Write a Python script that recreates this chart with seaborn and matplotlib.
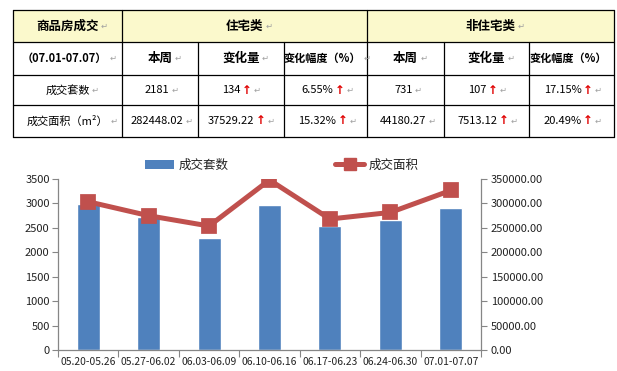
import numpy as np
import pandas as pd
import seaborn as sns
import matplotlib.pyplot as plt
from matplotlib.patches import Rectangle, Patch
from matplotlib.lines import Line2D
from matplotlib.ticker import FormatStrFormatter, FixedLocator

sns.set_theme(style='white')
plt.rcParams['font.family'] = ['Noto Sans CJK SC', 'DejaVu Sans']

##### table data #####
corner = ['商品房成交', '（07.01-07.07）']
groups = ['住宅类', '非住宅类']
sub_cols = ['本周', '变化量', '变化幅度（%）']
row_names = ['成交套数', '成交面积（m²）']
res_week = ['2181', '282448.02']
res_change = ['134', '37529.22']
res_pct = ['6.55%', '15.32%']
non_week = ['731', '44180.27']
non_change = ['107', '7513.12']
non_pct = ['17.15%', '20.49%']

##### chart data #####
weeks = ['05.20-05.26', '05.27-06.02', '06.03-06.09', '06.10-06.16',
         '06.17-06.23', '06.24-06.30', '07.01-07.07']
units = [2985, 2725, 2295, 2965, 2535, 2671, 2912]
area = [303500, 274900, 253800, 348000, 268100, 281586, 326628]

df = pd.DataFrame({'week': weeks, 'units': units, 'area': area})

bar_color = '#4F81BD'
line_color = '#C0504D'
axis_color = '#868686'
text_color = '#222222'

fig = plt.figure(figsize=(6.17, 3.71), dpi=100)

# full figure axes in pixel coords for the table
tab = fig.add_axes([0, 0, 1, 1], zorder=0)
tab.set_xlim(0, 617)
tab.set_ylim(371, 0)
tab.axis('off')

xs = [13, 122, 198, 284, 367, 444, 529, 614]
ys = [10, 42, 75, 105, 137]

tab.add_patch(Rectangle((xs[0], ys[0]), xs[-1] - xs[0], ys[1] - ys[0],
                        facecolor='#FBF9CC', edgecolor='none'))
for y in ys:
    tab.plot([xs[0], xs[-1]], [y, y], color='black', lw=0.9)
for x in [xs[0], xs[1], xs[4], xs[-1]]:
    tab.plot([x, x], [ys[0], ys[-1]], color='black', lw=0.9)
for x in [xs[2], xs[3], xs[5], xs[6]]:
    tab.plot([x, x], [ys[1], ys[-1]], color='black', lw=0.9)

def cx(i):
    return (xs[i] + xs[i + 1]) / 2

def cy(j):
    return (ys[j] + ys[j + 1]) / 2

def cell(x, y, s, bold=False, arrow=False, size=8, mark=True):
    t = tab.text(x, y, s, ha='center', va='center', fontsize=size,
                 fontweight='bold' if bold else 'normal', color='black')
    last = t
    if arrow:
        last = tab.annotate('↑', xy=(1, 0.5), xycoords=t, xytext=(1, 0),
                            textcoords='offset points', ha='left', va='center',
                            fontsize=8.5, fontweight='bold', color='#E00000',
                            family='DejaVu Sans')
    if mark:
        tab.annotate('↵', xy=(1, 0.5), xycoords=last, xytext=(1.5, 0),
                     textcoords='offset points', ha='left', va='center',
                     fontsize=6, color='#A0A0A0', family='DejaVu Sans')

# header rows
cell(cx(0), cy(0), corner[0], bold=True, size=9)
cell((xs[1] + xs[4]) / 2, cy(0), groups[0], bold=True, size=9)
cell((xs[4] + xs[7]) / 2, cy(0), groups[1], bold=True, size=9)
cell(cx(0) - 3, cy(1), corner[1], bold=True, size=8)
for k, name in enumerate(sub_cols):
    last_col = k == 2
    cell(cx(1 + k) - (3 if last_col else 0), cy(1), name, bold=True,
         size=8 if last_col else 9)
    cell(cx(4 + k) - (3 if last_col else 0), cy(1), name, bold=True,
         size=8 if last_col else 9, mark=not last_col)

# body rows
for r in range(2):
    cell(cx(0), cy(2 + r), row_names[r])
    cell(cx(1) - 3, cy(2 + r), res_week[r])
    cell(cx(2) - 10, cy(2 + r), res_change[r], arrow=True)
    cell(cx(3) - 8, cy(2 + r), res_pct[r], arrow=True)
    cell(cx(4) - 2, cy(2 + r), non_week[r])
    cell(cx(5) - 9, cy(2 + r), non_change[r], arrow=True)
    cell(cx(6) - 9, cy(2 + r), non_pct[r], arrow=True)

##### chart #####
ax = fig.add_axes([58 / 617, 21 / 371, 423 / 617, 171 / 371], zorder=1)
ax.patch.set_alpha(0)
sns.barplot(data=df, x='week', y='units', color=bar_color, saturation=1,
            width=0.38, ax=ax)
ax.set_ylim(0, 3500)
ax.set_yticks(np.arange(0, 3501, 500))
ax.set_xlim(-0.5, 6.5)

ax2 = ax.twinx()
sns.pointplot(data=df, x='week', y='area', color=line_color, markers='s',
              markersize=9, linewidth=3.6, errorbar=None, ax=ax2)
ax2.set_ylim(0, 350000)
ax2.set_yticks(np.arange(0, 350001, 50000))
ax2.yaxis.set_major_formatter(FormatStrFormatter('%.2f'))
ax2.set_xlim(-0.5, 6.5)

for a in (ax, ax2):
    a.set_xlabel('')
    a.set_ylabel('')
    a.grid(False)
    for side in ['left', 'right', 'bottom', 'top']:
        a.spines[side].set_visible(False)

ax.spines['left'].set_visible(True)
ax.spines['bottom'].set_visible(True)
ax2.spines['right'].set_visible(True)
for sp in [ax.spines['left'], ax.spines['bottom'], ax2.spines['right']]:
    sp.set_color(axis_color)
    sp.set_linewidth(0.9)

ax.tick_params(axis='y', left=True, length=4, width=0.8, color=axis_color,
               labelsize=8, labelcolor=text_color, pad=2)
ax2.tick_params(axis='y', right=True, length=4, width=0.8, color=axis_color,
                labelsize=8, labelcolor=text_color, pad=3)
ax.xaxis.set_minor_locator(FixedLocator(np.arange(-0.5, 7, 1)))
ax.tick_params(axis='x', which='minor', bottom=True, length=5, width=0.8,
               color=axis_color)
ax.tick_params(axis='x', which='major', bottom=True, length=0, labelsize=7.4,
               labelcolor=text_color, pad=5)

handles = [Patch(facecolor=bar_color, edgecolor='none'),
           Line2D([], [], color=line_color, lw=3.6, marker='s', markersize=9)]
fig.legend(handles, ['成交套数', '成交面积'], loc='center',
           bbox_to_anchor=(282 / 617, 1 - 165 / 371), ncol=2, frameon=False,
           fontsize=9, columnspacing=8.5, handlelength=2.3, handletextpad=0.4,
           labelcolor=text_color)

fig.savefig('out.png', dpi=100)
